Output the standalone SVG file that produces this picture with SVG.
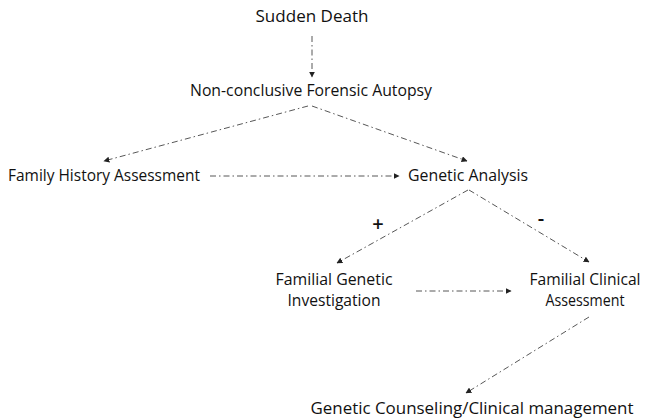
<svg xmlns="http://www.w3.org/2000/svg" width="646" height="419" viewBox="0 0 646 419">
<defs>
<marker id="ah" viewBox="0 0 10 10" refX="9" refY="5" markerWidth="6" markerHeight="6" markerUnits="userSpaceOnUse" orient="auto">
<path d="M0,0 L10,5 L0,10 z" fill="#222"/>
</marker>
<style>
text{font-family:"Open Sans","Noto Sans","Liberation Sans",sans-serif;font-size:16.5px;fill:#111}
.c{stroke:#444;stroke-width:0.9;fill:none;stroke-dasharray:6 3 1.5 3;marker-end:url(#ah)}
.sym{font-size:20px;font-weight:600}
</style>
</defs>
<rect width="646" height="419" fill="#fff"/>
<g id="connectors">
<line class="c" x1="312" y1="36" x2="312" y2="77"/>
<line class="c" x1="308" y1="106" x2="104" y2="161"/>
<line class="c" x1="312" y1="106" x2="467" y2="161"/>
<line class="c" x1="210" y1="176" x2="399" y2="176"/>
<line class="c" x1="468" y1="190" x2="337" y2="263"/>
<line class="c" x1="469" y1="190" x2="589" y2="262"/>
<line class="c" x1="416" y1="291" x2="511" y2="291"/>
<line class="c" x1="589" y1="317" x2="466" y2="393"/>
</g>
<g id="n-sudden"><text x="312" y="22" text-anchor="middle" textLength="113" lengthAdjust="spacingAndGlyphs">Sudden Death</text></g>
<g id="n-autopsy"><text x="311" y="96" text-anchor="middle" textLength="242" lengthAdjust="spacingAndGlyphs">Non-conclusive Forensic Autopsy</text></g>
<g id="n-family"><text x="8" y="181" textLength="192" lengthAdjust="spacingAndGlyphs">Family History Assessment</text></g>
<g id="n-genetic"><text x="408" y="181" textLength="120" lengthAdjust="spacingAndGlyphs">Genetic Analysis</text></g>
<g id="n-fgi"><text x="334" y="285" text-anchor="middle" textLength="117" lengthAdjust="spacingAndGlyphs">Familial Genetic</text><text x="334" y="306" text-anchor="middle" textLength="93" lengthAdjust="spacingAndGlyphs">Investigation</text></g>
<g id="n-fca"><text x="585" y="285" text-anchor="middle" textLength="111" lengthAdjust="spacingAndGlyphs">Familial Clinical</text><text x="585" y="306" text-anchor="middle" textLength="79" lengthAdjust="spacingAndGlyphs">Assessment</text></g>
<g id="n-gc"><text x="472" y="414" text-anchor="middle" textLength="323" lengthAdjust="spacingAndGlyphs">Genetic Counseling/Clinical management</text></g>
<g id="labels"><text class="sym" x="378" y="231" text-anchor="middle">+</text><text class="sym" x="541" y="225" text-anchor="middle">-</text></g>
</svg>
